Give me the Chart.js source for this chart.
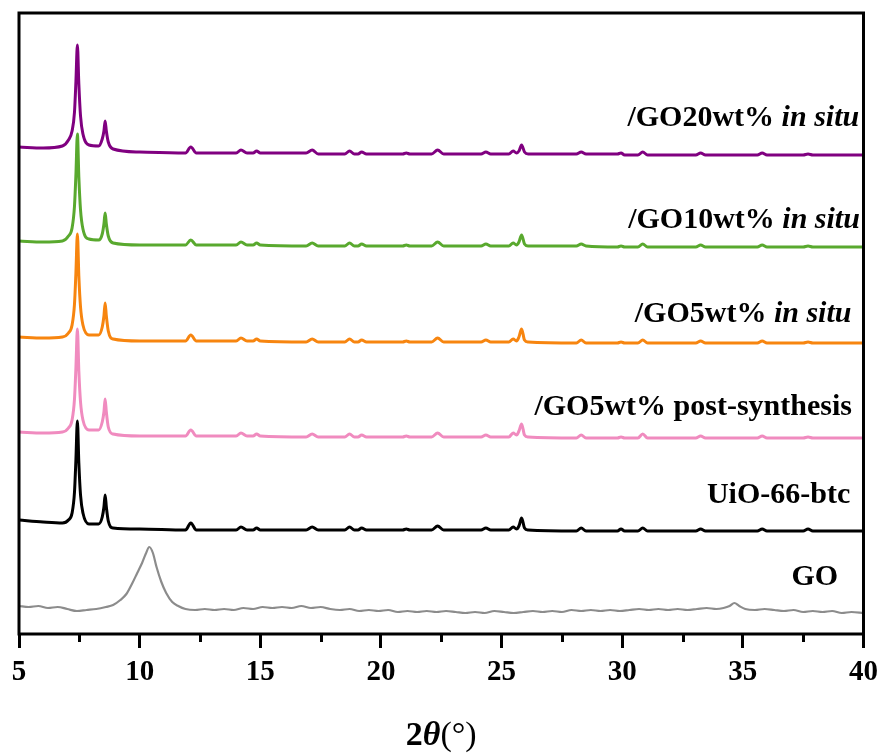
<!DOCTYPE html>
<html>
<head>
<meta charset="utf-8">
<script src="https://cdn.jsdelivr.net/npm/chart.js@4.4.1/dist/chart.umd.min.js"></script>
<style>
  html, body { margin: 0; padding: 0; background: #ffffff; }
  canvas { display: block; }
</style>
</head>
<body>
<canvas id="c" width="885" height="753"></canvas>
<script>
// ---------- DATA (2θ in degrees, intensity in arbitrary stacked units) ----------
const xTicks = [5, 10, 15, 20, 25, 30, 35, 40];
const minorTicks = [7.5, 12.5, 17.5, 22.5, 27.5, 32.5, 37.5];

const thetaMOF = [5.0, 6.0, 6.8, 7.05, 7.2, 7.3, 7.36, 7.42, 7.48, 7.55, 7.65, 7.9,
  8.3, 8.45, 8.52, 8.57, 8.62, 8.7, 8.9, 10.0, 11.9, 12.12, 12.35, 14.0, 14.2, 14.45,
  14.7, 14.85, 15.0, 16.9, 17.15, 17.4, 18.5, 18.7, 18.9, 19.05, 19.2, 19.4, 20.9,
  21.05, 21.2, 22.1, 22.35, 22.6, 24.15, 24.35, 24.55, 25.3, 25.48, 25.62, 25.72,
  25.83, 25.95, 26.1, 28.1, 28.3, 28.5, 29.8, 29.95, 30.1, 30.65, 30.85, 31.05,
  33.05, 33.25, 33.45, 35.6, 35.8, 36.0, 37.5, 37.7, 37.9, 40.0];

const go20InSitu = [487, 486, 488, 494, 503, 522, 553, 589, 550, 518, 500, 489,
  488, 495, 503, 513, 503, 492, 485, 482, 481, 487, 481, 481, 484, 481,
  481, 483, 481, 481, 484, 480, 480, 483, 480, 480, 482, 480, 480,
  481, 480, 480, 484, 480, 480, 482, 480, 480, 483, 481, 483,
  489, 482, 480, 480, 482, 480, 480, 481, 479, 479, 482, 479,
  479, 481, 479, 479, 481, 479, 479, 480, 479, 479];

const go10InSitu = [393, 392, 393, 398, 406, 428, 460, 500, 457, 424, 405, 395,
  394, 400, 410, 421, 410, 398, 391, 389, 389, 394, 389, 389, 392, 389,
  389, 391, 389, 388, 391, 388, 388, 391, 388, 388, 390, 388, 388,
  389, 388, 388, 392, 388, 388, 390, 388, 388, 391, 389, 392,
  399, 390, 388, 388, 390, 388, 387, 388, 387, 387, 390, 387,
  387, 389, 387, 387, 389, 387, 387, 388, 387, 387];

const go5InSitu = [297, 296, 297, 301, 309, 330, 362, 400, 358, 327, 309, 299,
  299, 307, 318, 331, 318, 303, 295, 293, 293, 299, 293, 293, 296, 293,
  293, 295, 293, 292, 295, 292, 292, 295, 292, 292, 294, 292, 292,
  293, 292, 292, 296, 292, 292, 294, 292, 292, 295, 293, 297,
  305, 294, 292, 291, 294, 291, 291, 292, 291, 291, 294, 291,
  291, 293, 291, 291, 293, 291, 291, 292, 291, 291];

const go5PostSynthesis = [202, 201, 202, 206, 214, 235, 267, 305, 263, 232, 214, 204,
  204, 212, 222, 235, 222, 207, 200, 198, 198, 204, 198, 198, 201, 198,
  198, 200, 198, 197, 200, 197, 197, 200, 197, 197, 199, 197, 197,
  198, 197, 197, 201, 197, 197, 199, 197, 197, 201, 199, 203,
  210, 199, 197, 196, 199, 196, 196, 197, 196, 196, 200, 196,
  196, 198, 196, 196, 198, 196, 196, 197, 196, 196];

const uio66btc = [114, 112, 111, 114, 121, 142, 175, 213, 171, 139, 121, 110,
  110, 117, 127, 139, 127, 113, 106, 105, 104, 111, 104, 104, 107, 104,
  104, 106, 104, 104, 107, 104, 104, 107, 104, 104, 106, 104, 104,
  105, 104, 104, 108, 104, 104, 106, 104, 104, 107, 105, 108,
  116, 106, 104, 103, 106, 103, 103, 105, 103, 103, 106, 103,
  103, 105, 103, 103, 105, 103, 103, 105, 103, 103];

const thetaGO = [5.0, 5.4, 5.8, 6.2, 6.6, 7.0, 7.4, 7.8, 8.2, 8.6, 8.9, 9.2, 9.45, 9.7,
  9.9, 10.1, 10.25, 10.4, 10.55, 10.7, 10.9, 11.1, 11.35, 11.6, 11.9, 12.3, 12.7, 13.1,
  13.5, 13.9, 14.3, 14.7, 15.1, 15.5, 15.9, 16.3, 16.7, 17.1, 17.5, 17.9, 18.3, 18.7,
  19.1, 19.5, 19.9, 20.3, 20.7, 21.1, 21.5, 21.9, 22.3, 22.7, 23.1, 23.5, 23.9, 24.3,
  24.7, 25.1, 25.5, 25.9, 26.3, 26.7, 27.1, 27.5, 27.9, 28.3, 28.7, 29.1, 29.5, 29.9,
  30.3, 30.7, 31.1, 31.5, 31.9, 32.3, 32.7, 33.1, 33.5, 33.9, 34.2, 34.45, 34.65, 34.85,
  35.1, 35.5, 35.9, 36.3, 36.7, 37.1, 37.5, 37.9, 38.3, 38.7, 39.1, 39.5, 40.0];

const goIntensity = [28, 27, 28, 26, 27, 25, 23, 24, 25, 27, 29, 34, 40, 51,
  61, 71, 80, 87, 81, 67, 52, 41, 32, 28, 25, 24, 25, 24,
  25, 24, 26, 25, 27, 26, 27, 26, 28, 26, 27, 25, 24, 25,
  23, 24, 23, 24, 22, 23, 22, 23, 22, 23, 22, 21, 22, 21,
  23, 22, 21, 22, 23, 22, 23, 22, 24, 23, 24, 23, 24, 23,
  24, 25, 24, 25, 24, 25, 24, 25, 26, 25, 26, 28, 31, 28,
  25, 24, 25, 24, 23, 24, 22, 23, 22, 23, 21, 22, 21];

const seriesNames = ["/GO20wt% in situ", "/GO10wt% in situ", "/GO5wt% in situ",
  "/GO5wt% post-synthesis", "UiO-66-btc", "GO"];

// ---------- helpers ----------
function pts(xs, ys) { return xs.map((x, i) => ({ x: x, y: ys[i] })); }

const colors = ['#800080', '#59a92e', '#f7850f', '#f08bbf', '#000000', '#8c8c8c'];
const seriesData = [
  pts(thetaMOF, go20InSitu), pts(thetaMOF, go10InSitu), pts(thetaMOF, go5InSitu),
  pts(thetaMOF, go5PostSynthesis), pts(thetaMOF, uio66btc), pts(thetaGO, goIntensity)
];

const datasets = seriesData.map((d, i) => ({
  label: seriesNames[i],
  data: d,
  borderColor: colors[i],
  borderWidth: i === 5 ? 2.2 : 3,
  pointRadius: 0,
  fill: false,
  cubicInterpolationMode: 'monotone'
}));

const SERIF = '"Liberation Serif", "Times New Roman", serif';

// label layout (annotation placement, in data coordinates)
const labelPlacement = [
  { x: 39.82, y: 508, parts: [["/GO20wt% ", "bold"], ["in situ", "italic bold"]] },
  { x: 39.85, y: 406, parts: [["/GO10wt% ", "bold"], ["in situ", "italic bold"]] },
  { x: 39.5,  y: 312, parts: [["/GO5wt% ", "bold"], ["in situ", "italic bold"]] },
  { x: 39.52, y: 219, parts: [["/GO5wt% post-synthesis", "bold"]] },
  { x: 39.45, y: 131, parts: [["UiO-66-btc", "bold"]] },
  { x: 38.95, y: 49,  parts: [["GO", "bold"]] }
];

const decorPlugin = {
  id: 'decor',
  beforeDraw(chart) {
    const ctx = chart.ctx;
    ctx.save();
    ctx.fillStyle = '#ffffff';
    ctx.fillRect(0, 0, chart.width, chart.height);
    ctx.restore();
  },
  afterDraw(chart) {
    const ctx = chart.ctx;
    const a = chart.chartArea;
    const xs = chart.scales.x, ys = chart.scales.y;
    ctx.save();
    // frame
    ctx.strokeStyle = '#000';
    ctx.lineWidth = 3;
    ctx.strokeRect(a.left, a.top, a.right - a.left, a.bottom - a.top);
    // minor ticks
    minorTicks.forEach(v => {
      const px = Math.round(xs.getPixelForValue(v)) + 0.5;
      ctx.beginPath();
      ctx.moveTo(px, a.bottom);
      ctx.lineTo(px, a.bottom + 8);
      ctx.stroke();
    });
    // series labels
    const fs = 30;
    labelPlacement.forEach(lp => {
      let total = 0;
      lp.parts.forEach(p => { ctx.font = p[1] + ' ' + fs + 'px ' + SERIF; total += ctx.measureText(p[0]).width; });
      let x = xs.getPixelForValue(lp.x) - total;
      const y = ys.getPixelForValue(lp.y);
      ctx.fillStyle = '#000';
      ctx.textBaseline = 'alphabetic';
      ctx.textAlign = 'left';
      lp.parts.forEach(p => {
        ctx.font = p[1] + ' ' + fs + 'px ' + SERIF;
        ctx.fillText(p[0], x, y);
        x += ctx.measureText(p[0]).width;
      });
    });
    // axis title 2θ(°)
    const tparts = [["2", "bold"], ["\u03B8", "italic bold"], ["(\u00B0)", "normal"]];
    const tfs = 34;
    let tw = 0;
    tparts.forEach(p => { ctx.font = p[1] + ' ' + tfs + 'px ' + SERIF; tw += ctx.measureText(p[0]).width; });
    let tx = (a.left + a.right) / 2 - tw / 2;
    const ty = 745;
    tparts.forEach(p => {
      ctx.font = p[1] + ' ' + tfs + 'px ' + SERIF;
      ctx.fillText(p[0], tx, ty);
      tx += ctx.measureText(p[0]).width;
    });
    ctx.restore();
  }
};

new Chart(document.getElementById('c'), {
  type: 'line',
  data: { datasets: datasets },
  options: {
    responsive: false,
    animation: false,
    events: [],
    layout: { padding: { left: 19, right: 21, top: 13, bottom: 0 } },
    plugins: { legend: { display: false }, tooltip: { enabled: false } },
    scales: {
      x: {
        type: 'linear',
        min: 5, max: 40,
        afterBuildTicks(scale) { scale.ticks = xTicks.map(v => ({ value: v })); },
        afterFit(scale) { scale.height = 119; },
        border: { display: false },
        grid: { display: true, drawOnChartArea: false, drawTicks: true, tickLength: 14, tickWidth: 3, tickColor: '#000' },
        ticks: {
          color: '#000',
          padding: 7,
          maxRotation: 0,
          font: { family: SERIF, size: 29, weight: 'bold' }
        }
      },
      y: {
        type: 'linear',
        min: 0, max: 621,
        display: false
      }
    }
  },
  plugins: [decorPlugin]
});
</script>
</body>
</html>
